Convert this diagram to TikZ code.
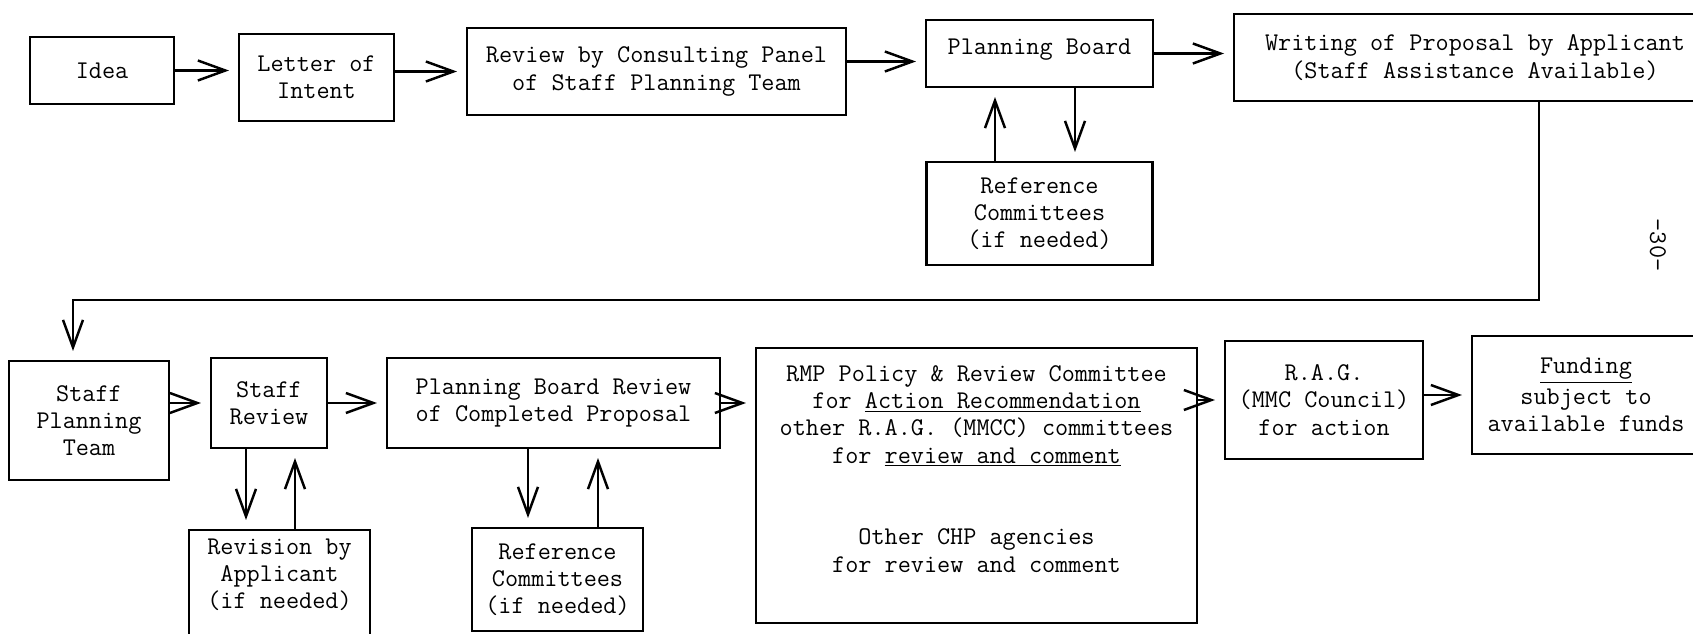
\documentclass[tikz,border=0pt]{standalone}
\usepackage{tikz}
\usetikzlibrary{arrows.meta,positioning}

\begin{document}
\begin{tikzpicture}[
    box/.style={rectangle, draw=black, line width=1.4pt, inner sep=2pt, align=center, font=\ttfamily\fontsize{14.5pt}{15.5pt}\selectfont},
    arrow/.style={-{Straight Barb[length=5.5mm, width=4mm]}, line width=1.4pt, shorten >=5pt},
    pagenum/.style={font=\ttfamily\fontsize{14.5pt}{15.5pt}\selectfont, rotate=-90}
]

\useasboundingbox (0,0) rectangle (33.86,12.66);
\clip (0,0) rectangle (33.86,12.66);

% Upper row
\node[box, minimum width=2.88cm, minimum height=1.34cm] (idea) at (2.04,11.25) {Idea};
\node[box, minimum width=3.1cm, minimum height=1.74cm, right of=idea, node distance=4.29cm, yshift=-0.14cm] (letter) {Letter of\\Intent};
\node[box, minimum width=7.58cm, minimum height=1.74cm, right of=letter, node distance=6.8cm, yshift=0.12cm] (review) {Review by Consulting Panel\\of Staff Planning Team};
\node[box, minimum width=4.54cm, minimum height=1.34cm, right of=review, node distance=7.66cm, yshift=0.36cm] (pb) {Planning Board\\[-8pt]\mbox{}};
\node[box, minimum width=9.64cm, minimum height=1.74cm, right of=pb, node distance=8.71cm, yshift=-0.08cm] (writing) {Writing of Proposal by Applicant\\(Staff Assistance Available)};
\node[box, minimum width=4.52cm, minimum height=2.06cm, below of=pb, node distance=3.2cm] (ref1) {Reference\\Committees\\(if needed)};

% Lower row
\node[box, minimum width=3.2cm, minimum height=2.38cm] (spt) at (1.78,4.25) {Staff\\Planning\\Team};
\node[box, minimum width=2.32cm, minimum height=1.8cm, right of=spt, node distance=3.6cm, yshift=0.35cm] (sr) {Staff\\Review};
\node[box, minimum width=6.66cm, minimum height=1.8cm, right of=sr, node distance=5.69cm] (pbr) {Planning Board Review\\of Completed Proposal};
\node[box, minimum width=8.82cm, minimum height=5.5cm, right of=pbr, node distance=8.46cm, yshift=-1.65cm] (rmp) {RMP Policy \& Review Committee\\for \underline{Action Recommendation}\\other R.A.G. (MMCC) committees\\for \underline{review and comment}\\[31pt]Other CHP agencies\\for review and comment\\[3.5pt]\mbox{}};
\node[box, minimum width=3.96cm, minimum height=2.36cm, right of=rmp, node distance=6.95cm, yshift=1.71cm] (rag) {R.A.G.\\(MMC Council)\\for action};
\node[box, minimum width=4.56cm, minimum height=2.36cm, right of=rag, node distance=5.24cm, yshift=0.1cm] (funding) {\underline{Funding}\\[2pt]subject to\\available funds};
\node[box, minimum width=3.62cm, minimum height=2.3cm, below of=sr, node distance=3.69cm, xshift=0.21cm] (rev) {Revision by\\Applicant\\(if needed)\\[0pt]\mbox{}};
\node[box, minimum width=3.42cm, minimum height=2.06cm, below of=pbr, node distance=3.53cm, xshift=0.08cm] (ref2) {Reference\\Committees\\(if needed)};

\node[pagenum] (pagenum) at (33.16,7.76) {-30-};

% Upper arrows
\draw[arrow] (idea.east) -- (idea.east -| letter.west);
\draw[arrow] (letter.east |- review.west) -- (review.west);
\draw[arrow] ([yshift=0.2cm]review.east) -- ([yshift=0.2cm]review.east -| pb.west);
\draw[arrow] (pb.east) -- (pb.east -| writing.west);
\draw[arrow] ([xshift=0.71cm]pb.south) -- ([xshift=0.71cm]ref1.north);
\draw[arrow] ([xshift=-0.89cm]ref1.north) -- ([xshift=-0.89cm]pb.south);

% Return line to the lower row
\coordinate (bend) at (1.46,6.66);
\draw[arrow] ([xshift=1.28cm]writing.south) |- (bend) -- (bend |- spt.north);

% Lower arrows
\draw[arrow] (spt.east |- sr.west) -- (sr.west);
\draw[arrow] (sr.east) -- (sr.east -| pbr.west);
\draw[arrow] ([xshift=-0.46cm]sr.south) -- ([xshift=-0.46cm]sr.south |- rev.north);
\draw[arrow] ([xshift=0.52cm]sr.south |- rev.north) -- ([xshift=0.52cm]sr.south);
\draw[arrow] ([xshift=-0.51cm]pbr.south) -- ([xshift=-0.51cm]pbr.south |- ref2.north);
\draw[arrow] ([xshift=0.89cm]pbr.south |- ref2.north) -- ([xshift=0.89cm]pbr.south);
\draw[arrow] (pbr.east) -- (pbr.east -| rmp.west);
\draw[arrow] (rmp.east |- rag.west) -- (rag.west);
\draw[arrow] (rag.east |- funding.west) -- (funding.west);

\end{tikzpicture}
\end{document}
